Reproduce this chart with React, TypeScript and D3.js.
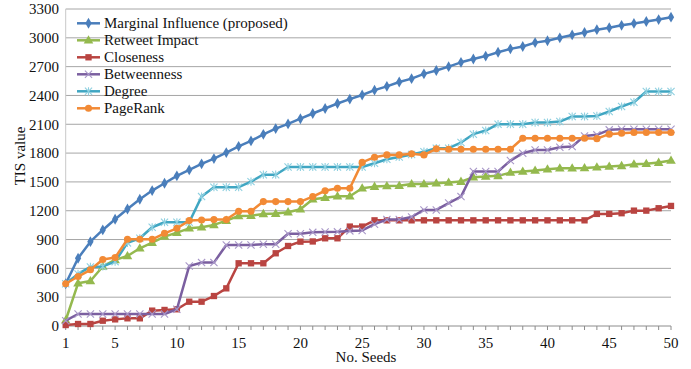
import React from "react";
import * as d3 from "d3";

const seeds = [1,2,3,4,5,6,7,8,9,10,11,12,13,14,15,16,17,18,19,20,21,22,23,24,25,26,27,28,29,30,31,32,33,34,35,36,37,38,39,40,41,42,43,44,45,46,47,48,49,50];
const xTickLabels = [1,5,10,15,20,25,30,35,40,45,50];
const yTickLabels = [0,300,600,900,1200,1500,1800,2100,2400,2700,3000,3300];

const marginalInfluence = [440,705,878,1000,1111,1218,1320,1410,1486,1563,1625,1688,1743,1805,1870,1927,1995,2055,2104,2158,2212,2264,2316,2362,2405,2455,2495,2540,2575,2625,2660,2700,2745,2780,2810,2850,2885,2910,2950,2970,3000,3030,3055,3085,3105,3130,3150,3170,3190,3215];
const retweetImpact = [60,444,469,620,688,729,809,868,931,972,1017,1028,1052,1097,1145,1149,1167,1170,1185,1215,1319,1335,1350,1350,1434,1451,1458,1460,1479,1479,1486,1493,1503,1549,1556,1563,1597,1608,1618,1632,1642,1642,1645,1653,1660,1667,1684,1688,1701,1722];
const closeness = [10,21,21,55,69,80,80,160,167,174,253,253,312,392,653,653,653,757,833,878,880,913,913,1035,1035,1100,1100,1100,1100,1100,1100,1100,1100,1100,1100,1100,1100,1100,1100,1100,1100,1100,1100,1167,1167,1174,1201,1201,1226,1250];
const betweenness = [55,125,125,125,125,125,125,125,125,174,625,660,660,844,844,844,851,851,960,960,975,978,980,990,995,1060,1108,1108,1135,1208,1208,1280,1347,1608,1608,1608,1722,1799,1833,1833,1861,1868,1979,1990,2042,2049,2049,2049,2049,2049];
const degree = [440,542,615,620,670,865,913,1028,1080,1080,1080,1347,1445,1445,1445,1503,1575,1575,1655,1655,1655,1655,1655,1655,1655,1694,1736,1760,1785,1815,1851,1851,1910,1997,2035,2101,2101,2101,2118,2118,2128,2181,2181,2187,2233,2285,2330,2441,2441,2441];
const pageRank = [440,515,585,692,712,903,903,903,965,1017,1097,1104,1108,1108,1195,1195,1295,1295,1295,1295,1347,1408,1434,1434,1703,1757,1781,1781,1792,1781,1845,1840,1840,1840,1840,1840,1840,1955,1955,1955,1955,1955,1955,1950,1997,2007,2014,2014,2014,2014];

const seriesNames = ["Marginal Influence (proposed)","Retweet Impact","Closeness","Betweenness","Degree","PageRank"];
const seriesValues = [marginalInfluence, retweetImpact, closeness, betweenness, degree, pageRank];
const seriesColors = ["#4a7ebb","#94b94e","#b94441","#7b5fa0","#40a6c2","#f28a35"];
const markerColors = ["#4a7ebb","#94b94e","#b94441","#a897c8","#8fd0e0","#f28a35"];
const markerKinds = ["diamond","triangle","square","x","asterisk","circle"];

const W = 691, H = 369;
const x = d3.scaleLinear().domain([1, 50]).range([65.7, 671]);
const y = d3.scaleLinear().domain([0, 3300]).range([326, 9]);
const font = "'Liberation Serif', 'Times New Roman', serif";

function Marker({ kind, cx, cy, color }: { kind: string; cx: number; cy: number; color: string }) {
  if (kind === "diamond") {
    return <path d={d3.symbol(d3.symbolDiamond, 34)()!} transform={`translate(${cx},${cy})`} fill={color} />;
  }
  if (kind === "triangle") {
    return <path d={d3.symbol(d3.symbolTriangle, 40)()!} transform={`translate(${cx},${cy + 0.5})`} fill={color} />;
  }
  if (kind === "square") {
    return <path d={d3.symbol(d3.symbolSquare, 40)()!} transform={`translate(${cx},${cy})`} fill={color} />;
  }
  if (kind === "circle") {
    return <path d={d3.symbol(d3.symbolCircle, 40)()!} transform={`translate(${cx},${cy})`} fill={color} />;
  }
  const r = 3.6;
  if (kind === "x") {
    return (
      <path d={`M${cx - r},${cy - r}L${cx + r},${cy + r}M${cx - r},${cy + r}L${cx + r},${cy - r}`} stroke={color} strokeWidth={1.1} fill="none" />
    );
  }
  return (
    <path d={`M${cx - r},${cy - r}L${cx + r},${cy + r}M${cx - r},${cy + r}L${cx + r},${cy - r}M${cx},${cy - r - 0.5}L${cx},${cy + r + 0.5}`} stroke={color} strokeWidth={1.1} fill="none" />
  );
}

export default function App() {
  const line = d3.line<number>().x((_, i) => x(seeds[i])).y((v) => y(v));
  const order = [0, 1, 2, 3, 4, 5];
  return (
    <svg width={W} height={H} style={{ position: "absolute", left: 0, top: 0, background: "#fff" }} fontFamily={font}>
      {yTickLabels.map((t) => (
        <g key={"gy" + t}>
          {t > 0 && <line x1={x(1)} x2={x(50)} y1={y(t)} y2={y(t)} stroke="#a6a6a6" strokeWidth={1} />}
          <text x={59} y={y(t)} dy="0.35em" textAnchor="end" fontSize={15} fill="#111">{t}</text>
        </g>
      ))}
      <line x1={x(1)} x2={x(1)} y1={y(3300)} y2={y(0)} stroke="#c8c8c8" strokeWidth={1} />
      <line x1={x(1)} x2={x(50)} y1={y(0)} y2={y(0)} stroke="#8c8c8c" strokeWidth={1} />
      {seeds.map((s) => (
        <line key={"tk" + s} x1={x(s)} x2={x(s)} y1={y(0)} y2={y(0) + 4} stroke="#8c8c8c" strokeWidth={1} />
      ))}
      {xTickLabels.map((t) => (
        <text key={"tx" + t} x={x(t)} y={347.5} textAnchor="middle" fontSize={15} fill="#111">{t}</text>
      ))}
      <text x={366} y={362} textAnchor="middle" fontSize={15} fill="#111">No. Seeds</text>
      <text transform={`translate(25,156) rotate(-90)`} textAnchor="middle" fontSize={15} fill="#111">TIS value</text>
      {order.map((k) => (
        <g key={"s" + k}>
          <path d={line(seriesValues[k])!} fill="none" stroke={seriesColors[k]} strokeWidth={2.5} strokeLinejoin="round" />
          {seriesValues[k].map((v, i) => (
            <Marker key={i} kind={markerKinds[k]} cx={x(seeds[i])} cy={y(v)} color={markerColors[k]} />
          ))}
        </g>
      ))}
      {seriesNames.map((n, k) => {
        const cy = 23.3 + k * 17;
        return (
          <g key={"lg" + k}>
            <line x1={77} x2={100} y1={cy} y2={cy} stroke={seriesColors[k]} strokeWidth={2.5} />
            <Marker kind={markerKinds[k]} cx={88.5} cy={cy} color={markerColors[k]} />
            <text x={104} y={cy} dy="0.33em" fontSize={15} fill="#111">{n}</text>
          </g>
        );
      })}
    </svg>
  );
}
